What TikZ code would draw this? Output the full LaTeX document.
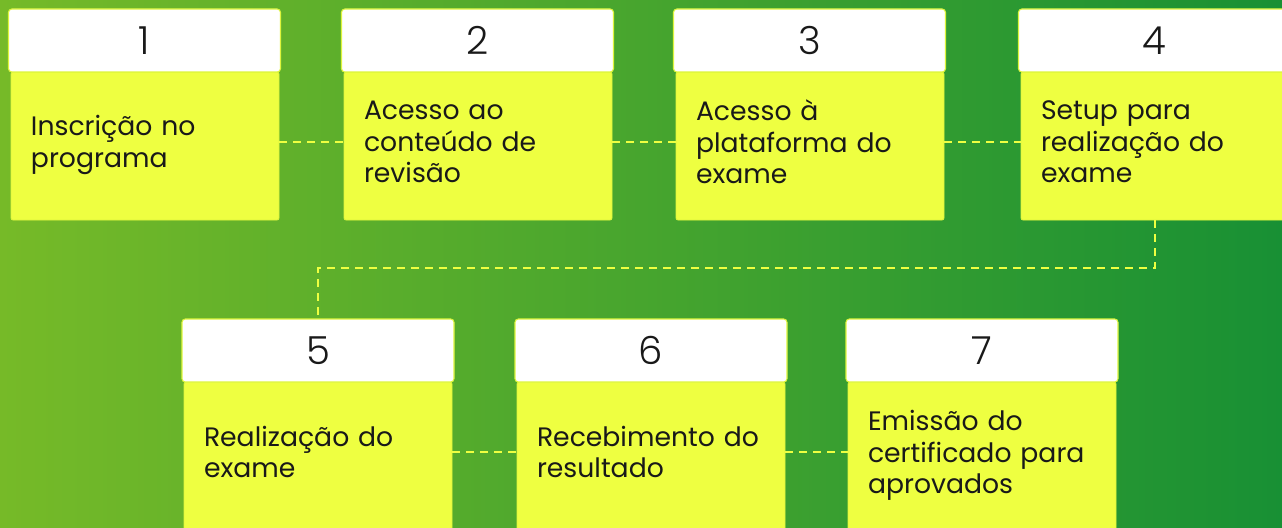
\documentclass[tikz,border=0pt]{standalone}
\usepackage{fontspec}
\setmainfont{Poppins}
\newfontfamily\numfont{Poppins Light}
\definecolor{bgl}{RGB}{118,186,40}
\definecolor{bgr}{RGB}{24,144,52}
\definecolor{yel}{RGB}{238,255,65}
\definecolor{edge}{RGB}{222,245,60}
\definecolor{ink}{RGB}{25,25,25}
\tikzset{
  bodybox/.style={rectangle, fill=yel, draw=edge, line width=0.6pt, rounded corners=1.5pt,
    minimum width=201pt, minimum height=111pt, inner sep=0pt},
  bodytext/.style={text width=171pt, inner sep=0pt, align=left, text=ink,
    font=\fontsize{20}{23.6}\selectfont},
  headbox/.style={rectangle, fill=white, draw=edge, line width=0.8pt, rounded corners=2.5pt,
    minimum width=204pt, minimum height=47.25pt, inner sep=0pt, text=ink,
    font=\numfont\fontsize{29}{30}\selectfont},
  conn/.style={draw=yel, line width=1.5pt, dash pattern=on 6pt off 4.5pt},
}
\begin{document}
\begin{tikzpicture}[x=0.75pt,y=-0.75pt]
\clip (0,0) rectangle (1282,528);
\shade[left color=bgl, right color=bgr] (0,0) rectangle (1282,528);
% bodies
\node[bodybox] (b1) at (145,146) {};
\node[bodybox] (b2) at (478,146) {};
\node[bodybox] (b3) at (810,146) {};
\node[bodybox] (b4) at (1155,146) {};
\node[bodybox] (b5) at (318,456) {};
\node[bodybox] (b6) at (651,456) {};
\node[bodybox] (b7) at (982,456) {};
% body texts
\node[bodytext] (t1) at (145,145) {Inscrição no\\programa};
\node[bodytext] (t2) at (478,142) {Acesso ao\\conteúdo de\\revisão};
\node[bodytext] (t3) at (810,142) {Acesso à\\plataforma do\\exame};
\node[bodytext] (t4) at (1155,142) {Setup para\\realização do\\exame};
\node[bodytext] (t5) at (318,452) {Realização do\\exame};
\node[bodytext] (t6) at (651,452) {Recebimento do\\resultado};
\node[bodytext] (t7) at (982,455.5) {Emissão do\\certificado para\\aprovados};
% headers
\node[headbox] (h1) at (144.5,40.5) {1};
\node[headbox] (h2) at (477.5,40.5) {2};
\node[headbox] (h3) at (809.5,40.5) {3};
\node[headbox] (h4) at (1154.5,40.5) {4};
\node[headbox] (h5) at (318,350.5) {5};
\node[headbox] (h6) at (651,350.5) {6};
\node[headbox] (h7) at (982,350.5) {7};
% connectors
\draw[conn] ([yshift=3pt]b1.east) -- ([yshift=3pt]b2.west);
\draw[conn] ([yshift=3pt]b2.east) -- ([yshift=3pt]b3.west);
\draw[conn] ([yshift=3pt]b3.east) -- ([yshift=3pt]b4.west);
\coordinate (turn) at (1155,268);
\draw[conn] (b4.south) -- (turn) -| (h5.north);
\draw[conn] ([yshift=3pt]b5.east) -- ([yshift=3pt]b6.west);
\draw[conn] ([yshift=3pt]b6.east) -- ([yshift=3pt]b7.west);
\end{tikzpicture}
\end{document}
